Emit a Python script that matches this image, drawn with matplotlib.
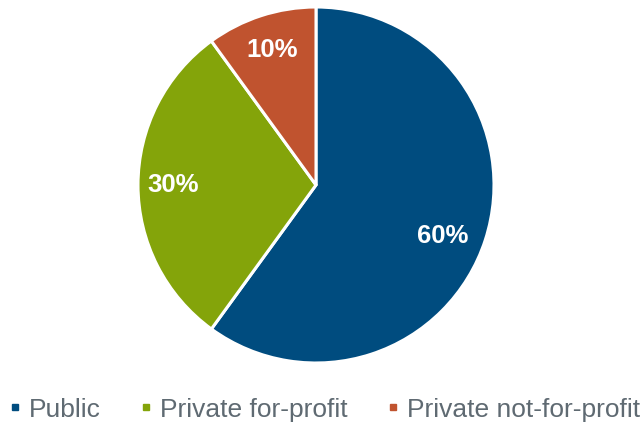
import numpy as np
import matplotlib.pyplot as plt
from matplotlib.lines import Line2D

plt.rcParams['font.family'] = ['Liberation Sans', 'DejaVu Sans']

# data
labels = ['Public', 'Private for-profit', 'Private not-for-profit']
shares = [60, 30, 10]
colors = ['#004C7F', '#84A40A', '#C0532F']

fig = plt.figure(figsize=(6.42, 4.25), dpi=100)
# pie centred at (316, 185) px with radius ~178 px
cx, cy, r = 316, 185, 178
ax = fig.add_axes([(cx - r) / 642, (425 - cy - r) / 425, 2 * r / 642, 2 * r / 425])

wedges, texts, autotexts = ax.pie(
    shares, colors=colors, startangle=90, counterclock=False,
    autopct='%d%%', pctdistance=0.8, radius=1.0,
    wedgeprops=dict(edgecolor='white', linewidth=2.2),
)
for t in autotexts:
    t.set_color('white')
    t.set_fontsize(18.5)
    t.set_fontweight('bold')
# the big slice's label sits a little lower in the original
ang = np.deg2rad(-22)
autotexts[0].set_position((0.77 * np.cos(ang), 0.77 * np.sin(ang)))

ax.set_xlim(-1.0, 1.0)
ax.set_ylim(-1.0, 1.0)
ax.set_aspect('equal')

handles = [Line2D([], [], marker='s', linestyle='none', markersize=4,
                  markerfacecolor=c, markeredgecolor=c) for c in colors]
fig.legend(handles, labels, loc='center', bbox_to_anchor=(0.504, 0.036),
           ncol=3, frameon=False, fontsize=19, labelcolor='#5F6A72',
           handlelength=0.6, handletextpad=0.25, columnspacing=1.4,
           borderpad=0, borderaxespad=0)

fig.savefig('out.png', dpi=100)
